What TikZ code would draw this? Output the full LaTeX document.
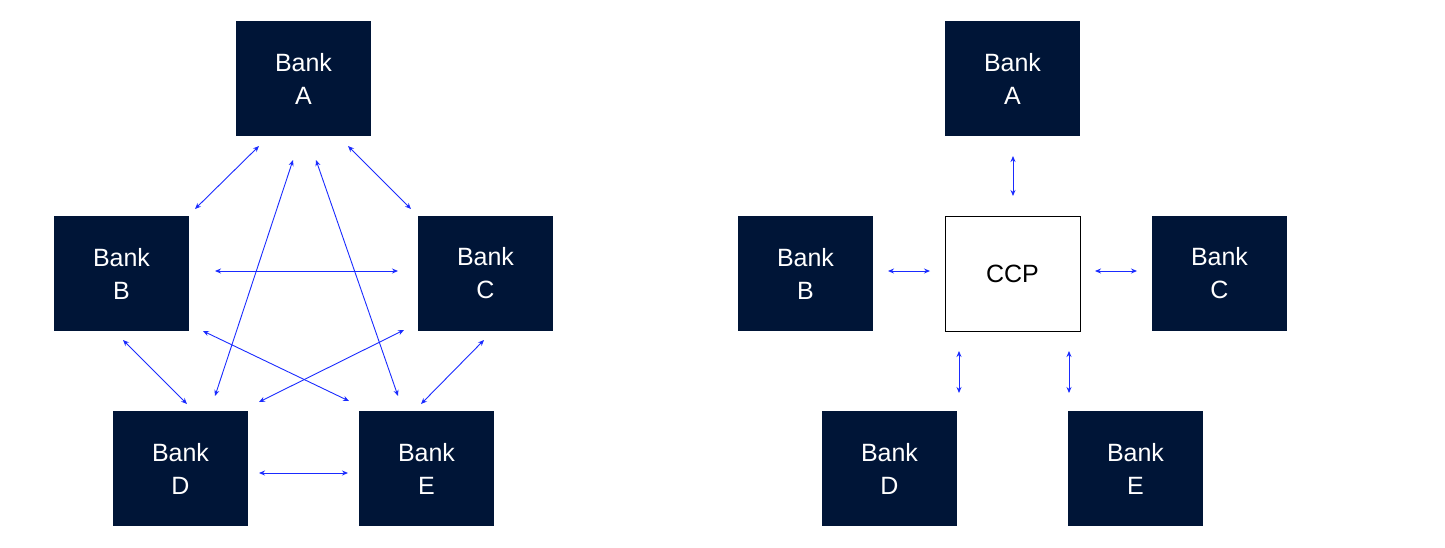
\documentclass[tikz,border=0pt]{standalone}
\usepackage{fontspec}
\setmainfont{Liberation Sans}
\usetikzlibrary{arrows.meta}
\definecolor{navy}{HTML}{001537}
\definecolor{arr}{HTML}{1A2BFF}
\begin{document}
\begin{tikzpicture}[x=1pt,y=-1pt,
 bank/.style={fill=navy,text=white,minimum width=135pt,minimum height=115pt,inner sep=0pt,align=center,font=\fontsize{25}{33}\selectfont},
 ccp/.style={draw=black,line width=1pt,fill=white,minimum width=135pt,minimum height=115pt,inner sep=0pt,font=\fontsize{25}{33}\selectfont},
 link/.style={draw=arr,line width=0.9pt,{Stealth[length=6pt,width=5pt]}-{Stealth[length=6pt,width=5pt]}}]
\useasboundingbox (0,0) rectangle (1445,547);
\node[bank] (A) at (303.5,78.5) {Bank\\A};
\node[bank] (B) at (121.5,273.5) {Bank\\B};
\node[bank] (C) at (485.5,273.5) {Bank\\C};
\node[bank] (D) at (180.5,468.5) {Bank\\D};
\node[bank] (E) at (426.5,468.5) {Bank\\E};
\foreach \n/\a/\b/\c/\d in {ab/259/146/195/209, ac/348/146/411/209, bc/215/271/398/271, ad/293/160/215/396, ae/316/160/398/396, bd/123/340/187/404, be/203/331/349/401, cd/404/330/259/402, ce/484/340/421/404, de/259/473/348/473}{
 \coordinate (\n1) at (\a,\b); \coordinate (\n2) at (\c,\d);
 \draw[link] (\n1) -- (\n2);}
\node[bank] (RA) at (1012.5,78.5) {Bank\\A};
\node[ccp] (CCP) at (1012.5,273.5) {CCP};
\node[bank] (RB) at (805.5,273.5) {Bank\\B};
\node[bank] (RC) at (1219.5,273.5) {Bank\\C};
\node[bank] (RD) at (889.5,468.5) {Bank\\D};
\node[bank] (RE) at (1135.5,468.5) {Bank\\E};
\foreach \n/\a/\b/\c/\d in {ra/1013/156/1013/196, rb/888/271/930/271, rc/1095/271/1137/271, rd/959/351/959/393, re/1069/351/1069/393}{
 \coordinate (\n1) at (\a,\b); \coordinate (\n2) at (\c,\d);
 \draw[link] (\n1) -- (\n2);}
\end{tikzpicture}
\end{document}
